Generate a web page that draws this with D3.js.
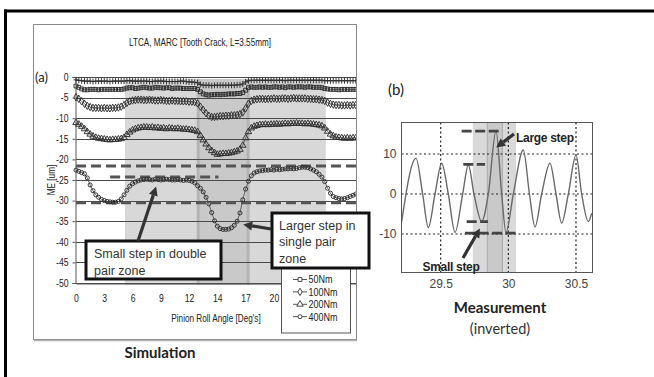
<!DOCTYPE html>
<html><head><meta charset="utf-8">
<script src="https://cdn.jsdelivr.net/npm/d3@7"></script>
<style>
html,body{margin:0;padding:0;background:#fff;}
svg{display:block;}
</style></head><body>
<svg id="fig" width="654" height="377"></svg>
<script>
// ---------- panel (a): simulated mesh error (LTCA, MARC) ----------
const angleStep = 2 / 7;          // roll-angle spacing of the samples [deg]
const xTickLabels = ["0","3","6","9","12","14","17","20"];
const xLabelEvery = 10;           // one category label every 10 samples
const yTicksA = [0,-5,-10,-15,-20,-25,-30,-35,-40,-45,-50];

const me25 = [-0.7,-0.8,-0.9,-1.0,-1.0,-1.0,-1.1,-1.0,-1.0,-1.0,
  -1.0,-1.0,-1.1,-1.0,-1.0,-1.0,-1.0,-1.0,-0.9,-0.9,
  -1.0,-1.0,-1.0,-1.0,-1.0,-1.0,-1.1,-1.1,-1.0,-1.0,
  -1.0,-1.0,-1.1,-1.1,-1.1,-1.1,-1.1,-1.0,-1.0,-1.1,
  -1.2,-1.2,-1.3,-1.4,-1.8,-2.0,-2.0,-2.0,-2.1,-2.0,
  -2.0,-2.0,-2.0,-2.0,-2.0,-2.0,-2.0,-1.9,-1.9,-1.7,
  -1.2,-0.9,-0.8,-0.8,-0.8,-0.8,-0.8,-0.8,-0.8,-0.8,
  -0.8,-0.8,-0.8,-0.8,-0.9,-0.8,-0.8,-0.8,-0.8,-0.8,
  -0.8,-0.8,-0.8,-0.8,-0.8,-0.8,-0.8,-0.8,-0.9,-0.9,
  -0.9,-0.9,-0.9,-0.9,-0.9,-0.9,-0.9,-0.9,-0.9,-0.9];
const me50 = [-2.2,-2.5,-2.9,-3.1,-3.1,-3.0,-3.0,-3.0,-3.1,-3.0,
  -3.0,-3.0,-3.0,-3.0,-3.0,-3.0,-3.0,-2.9,-2.7,-2.6,
  -2.6,-2.8,-2.7,-2.6,-2.5,-2.6,-2.7,-2.7,-2.5,-2.6,
  -2.6,-2.7,-2.6,-2.6,-2.8,-2.7,-2.7,-2.7,-2.8,-2.8,
  -2.8,-2.8,-2.8,-3.0,-3.6,-4.1,-4.3,-4.4,-4.3,-4.3,
  -4.2,-4.3,-4.2,-4.2,-4.1,-4.1,-4.1,-4.0,-4.0,-3.8,
  -3.2,-2.6,-2.4,-2.5,-2.5,-2.4,-2.5,-2.4,-2.5,-2.5,
  -2.4,-2.4,-2.5,-2.4,-2.6,-2.4,-2.4,-2.5,-2.4,-2.4,
  -2.4,-2.5,-2.4,-2.4,-2.5,-2.5,-2.5,-2.6,-2.8,-2.9,
  -3.0,-3.0,-3.0,-3.1,-3.0,-3.0,-3.0,-3.0,-3.0,-3.0];
const me100 = [-4.9,-5.3,-5.9,-6.5,-7.0,-7.3,-7.5,-7.5,-7.5,-7.6,
  -7.5,-7.6,-7.6,-7.5,-7.5,-7.4,-7.2,-6.8,-6.3,-5.9,
  -5.7,-5.6,-5.5,-5.5,-5.6,-5.6,-5.5,-5.6,-5.7,-5.7,
  -5.6,-5.7,-5.8,-5.8,-5.7,-5.8,-5.8,-5.9,-5.9,-5.9,
  -6.0,-6.0,-6.1,-6.4,-7.2,-8.0,-8.8,-9.4,-9.7,-9.7,
  -9.6,-9.5,-9.5,-9.4,-9.4,-9.3,-9.3,-9.2,-9.0,-8.6,
  -7.6,-6.5,-5.8,-5.5,-5.4,-5.3,-5.3,-5.4,-5.3,-5.3,
  -5.2,-5.3,-5.3,-5.2,-5.2,-5.3,-5.2,-5.1,-5.2,-5.2,
  -5.2,-5.2,-5.3,-5.3,-5.4,-5.4,-5.5,-5.6,-5.8,-6.2,
  -6.5,-6.7,-6.8,-6.8,-6.9,-6.9,-6.8,-6.9,-6.8,-6.8];
const me200 = [-11.1,-11.5,-12.0,-12.6,-13.3,-13.9,-14.4,-14.7,-14.9,-15.0,
  -15.1,-15.2,-15.3,-15.2,-15.2,-15.1,-15.0,-14.7,-14.0,-13.4,
  -12.9,-12.6,-12.4,-12.3,-12.2,-12.2,-12.3,-12.2,-12.4,-12.3,
  -12.5,-12.4,-12.6,-12.4,-12.5,-12.6,-12.5,-12.6,-12.7,-12.7,
  -12.8,-12.9,-13.0,-13.3,-14.2,-15.3,-16.3,-17.2,-17.9,-18.4,
  -18.8,-18.7,-18.6,-18.6,-18.5,-18.4,-18.2,-18.0,-17.6,-16.6,
  -14.8,-13.3,-12.4,-12.0,-11.8,-11.6,-11.6,-11.5,-11.6,-11.5,
  -11.5,-11.4,-11.5,-11.4,-11.3,-11.4,-11.3,-11.3,-11.2,-11.3,
  -11.3,-11.4,-11.3,-11.4,-11.5,-11.6,-11.7,-11.9,-12.4,-13.2,
  -13.9,-14.3,-14.6,-14.7,-14.8,-14.9,-14.8,-14.9,-14.8,-14.8];
const me400 = [-22.6,-22.9,-23.2,-23.5,-24.5,-26.2,-27.6,-28.6,-29.2,-29.7,
  -30.0,-30.2,-30.3,-30.4,-30.4,-30.2,-29.6,-28.6,-27.5,-26.5,
  -25.9,-25.5,-25.2,-25.0,-24.9,-24.8,-24.9,-25.0,-24.8,-24.9,
  -25.0,-24.9,-24.8,-24.9,-25.0,-25.0,-24.9,-25.0,-25.1,-25.0,
  -25.1,-25.3,-25.7,-26.4,-27.0,-27.9,-29.2,-30.8,-32.9,-34.9,
  -36.2,-36.8,-37.0,-37.0,-36.9,-36.6,-36.0,-35.0,-33.0,-29.8,
  -27.2,-25.3,-24.0,-23.3,-23.0,-22.8,-22.7,-22.6,-22.6,-22.5,
  -22.6,-22.4,-22.5,-22.4,-22.3,-22.3,-22.2,-22.3,-22.2,-22.0,
  -21.9,-21.9,-22.0,-22.3,-22.6,-23.0,-23.6,-24.3,-25.4,-27.0,
  -28.2,-29.0,-29.3,-29.5,-29.6,-29.5,-29.3,-29.0,-28.7,-28.4];

const loadSeries = [
  {name:"25Nm",  marker:"plus",     values:me25},
  {name:"50Nm",  marker:"square",   values:me50},
  {name:"100Nm", marker:"diamond",  values:me100},
  {name:"200Nm", marker:"triangle", values:me200},
  {name:"400Nm", marker:"circle",   values:me400}
];
const legendNames = ["50Nm","100Nm","200Nm","400Nm"];

// contact zones [deg] and step reference levels [um]
const doublePairZone = [4.95, 25.25];
const singlePairZone = [12.35, 17.4];
const stepLevelsA = [
  {value:-21.6, from:0,   to:28.3},
  {value:-24.3, from:3.45, to:14.4},
  {value:-30.55, from:0,  to:28.3}
];

// ---------- panel (b): measured transmission error ----------
const measTime = [29.2115,29.3175,29.3667,29.4086,29.4579,29.5072,29.5564,29.6057,
  29.6624,29.7042,29.7461,29.8028,29.8520,29.9087,29.9506,29.9826,30.0368,30.1107,
  30.1560,30.1970,30.2463,30.3078,30.3522,30.3941,30.4433,30.5000,30.5419,30.5911,30.6158];
const measSignal = [-6.9,8.9,0,-8.4,0,7.7,0,-9.6,
  0,7.25,0,-6.9,0,15.75,0,-9.6,0,11.0,
  0,-8.2,0,7.7,0,-7.3,0,9.75,0,-6.9,-4.8];
const xTicksB = [29.5, 30, 30.5];
const yTicksB = [-10, 0, 10];
const measWideZone = [29.737, 30.057];
const measNarrowZone = [29.845, 29.956];
const stepLevelsB = [
  {value:15.7, from:29.655, to:29.94},
  {value:7.4,  from:29.667, to:29.828},
  {value:-6.9, from:29.692, to:29.85},
  {value:-9.8, from:29.68,  to:30.06}
];

// ================= drawing =================
const svg = d3.select("#fig");
const sans = "'Liberation Sans',Arial,sans-serif";
const calib = "Lato,'Open Sans',sans-serif";
const NARROW = 0.82;   // horizontal squeeze giving a narrow face

// squeeze text horizontally about its own x anchor
function condense(sel, k = NARROW) {
  sel.each(function () {
    const t = d3.select(this);
    const x = +t.attr("x") || 0;
    t.attr("transform", `translate(${x * (1 - k)},0) scale(${k},1)`);
  });
}

function arrow(g, x1, y1, x2, y2) {
  const L = 9, W = 4.5;
  const dx = x2 - x1, dy = y2 - y1, len = Math.hypot(dx, dy);
  const ux = dx / len, uy = dy / len;
  const bx = x2 - ux * L, by = y2 - uy * L;
  g.append("line").attr("x1", x1).attr("y1", y1).attr("x2", bx).attr("y2", by)
    .attr("stroke", "#333").attr("stroke-width", 3.2);
  g.append("path")
    .attr("d", `M${x2},${y2}L${bx - uy * W},${by + ux * W}L${bx + uy * W},${by - ux * W}Z`)
    .attr("fill", "#333");
}

// outer figure frame
svg.append("line").attr("x1", 4).attr("x2", 654).attr("y1", 11).attr("y2", 11)
  .attr("stroke", "#000").attr("stroke-width", 3);
svg.append("line").attr("x1", 5.5).attr("x2", 5.5).attr("y1", 9.5).attr("y2", 377)
  .attr("stroke", "#000").attr("stroke-width", 3);

// ---- panel (a) ----
const gA = svg.append("g");
gA.append("rect").attr("x", 33.5).attr("y", 24.5).attr("width", 323).attr("height", 315)
  .attr("fill", "#fff").attr("stroke", "#8a8a8a").attr("stroke-width", 1);
gA.append("line").attr("x1", 34).attr("x2", 357).attr("y1", 340.5).attr("y2", 340.5)
  .attr("stroke", "#b0b0b0").attr("stroke-width", 1.5);

const xA = d3.scaleLinear().domain([0, 28.3]).range([76, 356]);
const yA = d3.scaleLinear().domain([0, -50]).range([77, 283]);

gA.append("text").attr("x", 200).attr("y", 46.5).attr("text-anchor", "middle")
  .attr("font-family", sans).attr("font-size", 10.7).attr("fill", "#222")
  .text("LTCA, MARC [Tooth Crack, L=3.55mm]").call(condense, 0.76);

// zones
gA.append("rect").attr("x", xA(doublePairZone[0])).attr("y", yA(-0.5))
  .attr("width", xA(doublePairZone[1]) - xA(doublePairZone[0]))
  .attr("height", yA(-50.5) - yA(-0.5)).attr("fill", "#d8d8d8");
gA.append("rect").attr("x", xA(singlePairZone[0])).attr("y", yA(-0.5))
  .attr("width", xA(singlePairZone[1]) - xA(singlePairZone[0]))
  .attr("height", yA(-50.5) - yA(-0.5)).attr("fill", "#c9c9c9");
singlePairZone.forEach(v => gA.append("line")
  .attr("x1", xA(v)).attr("x2", xA(v)).attr("y1", yA(-0.5)).attr("y2", yA(-50.5))
  .attr("stroke", "#b4b4b4").attr("stroke-width", 3));

// horizontal grid
gA.append("g").selectAll("line").data(yTicksA).join("line")
  .attr("x1", 76).attr("x2", 356).attr("y1", d => Math.round(yA(d)) + 0.5).attr("y2", d => Math.round(yA(d)) + 0.5)
  .attr("stroke", "#4a4a4a").attr("stroke-width", 1);

// axes
const axL = gA.append("g").attr("transform", "translate(75.5,0)")
  .call(d3.axisLeft(yA).tickValues(yTicksA).tickFormat(d => String(d)).tickSize(3).tickPadding(4));
axL.select(".domain").attr("stroke", "#555");
axL.selectAll(".tick line").attr("stroke", "#555");
axL.selectAll("text").attr("font-family", sans).attr("font-size", 10.5).attr("fill", "#222").call(condense);

const labelPos = xTickLabels.map((_, i) => i * xLabelEvery * angleStep);
const axB = gA.append("g").attr("transform", `translate(0,${Math.round(yA(-50)) + 0.5})`)
  .call(d3.axisBottom(xA).tickValues(labelPos).tickFormat((d, i) => xTickLabels[i]).tickSize(0).tickPadding(11));
axB.select(".domain").attr("stroke", "#555");
axB.selectAll("text").attr("font-family", sans).attr("font-size", 10.5).attr("fill", "#222").call(condense);

gA.append("text").attr("x", 216).attr("y", 322.5).attr("text-anchor", "middle")
  .attr("font-family", sans).attr("font-size", 10).attr("fill", "#222")
  .text("Pinion Roll Angle [Deg's]").call(condense);
gA.append("text").attr("transform", `translate(55,180) rotate(-90) scale(${NARROW},1)`).attr("text-anchor", "middle")
  .attr("font-family", sans).attr("font-size", 10).attr("fill", "#222")
  .text("ME [um]");
gA.append("text").attr("x", 35).attr("y", 81.5).attr("font-family", calib)
  .attr("font-size", 13).attr("fill", "#222").text("(a)");

// data curves
const clipA = svg.append("defs").append("clipPath").attr("id", "clipA");
clipA.append("rect").attr("x", 70).attr("y", 60).attr("width", 286).attr("height", 240);
const plotA = gA.append("g").attr("clip-path", "url(#clipA)");

const markerPath = {
  plus: "M-2.5,0H2.5M0,-3V3",
  square: d3.symbol(d3.symbolSquare, 15)(),
  diamond: d3.symbol(d3.symbolDiamond, 16)(),
  triangle: d3.symbol(d3.symbolTriangle, 18)(),
  circle: d3.symbol(d3.symbolCircle, 13)()
};
const lineA = d3.line().x((d, i) => xA(i * angleStep)).y(d => yA(d));

// reference step levels (under the markers)
stepLevelsA.forEach(s => plotA.append("line")
  .attr("x1", xA(s.from)).attr("x2", xA(s.to)).attr("y1", yA(s.value)).attr("y2", yA(s.value))
  .attr("stroke", "#555").attr("stroke-width", 3).attr("stroke-dasharray", "10,5"));

loadSeries.forEach(s => {
  plotA.append("path").attr("d", lineA(s.values)).attr("fill", "none")
    .attr("stroke", "#555").attr("stroke-width", 0.9);
  plotA.append("g").selectAll("path").data(s.values).join("path")
    .attr("transform", (d, i) => `translate(${xA(i * angleStep)},${yA(d)})`)
    .attr("d", markerPath[s.marker]).attr("fill", "none")
    .attr("stroke", "#2e2e2e").attr("stroke-width", 0.95);
});

// legend
const leg = gA.append("g");
leg.append("rect").attr("x", 281.5).attr("y", 258.5).attr("width", 69).attr("height", 74.5)
  .attr("fill", "#fff").attr("stroke", "#555").attr("stroke-width", 1);
legendNames.forEach((n, i) => {
  const s = loadSeries.find(t => t.name === n);
  const y = 279.5 + i * 12.4;
  leg.append("line").attr("x1", 293).attr("x2", 307).attr("y1", y).attr("y2", y)
    .attr("stroke", "#444").attr("stroke-width", 0.9);
  leg.append("path").attr("transform", `translate(300,${y})`).attr("d", markerPath[s.marker])
    .attr("fill", "#fff").attr("stroke", "#333").attr("stroke-width", 0.9);
  leg.append("text").attr("x", 308.5).attr("y", y + 4).attr("font-family", sans)
    .attr("font-size", 11).attr("fill", "#222").text(n).call(condense);
});

// annotations
function noteBox(g, x, y, w, h, lines, tx, ty0, dy) {
  g.append("rect").attr("x", x).attr("y", y).attr("width", w).attr("height", h)
    .attr("fill", "#fff").attr("stroke", "#111").attr("stroke-width", 3);
  lines.forEach((t, i) => g.append("text").attr("x", tx).attr("y", ty0 + i * dy)
    .attr("font-family", sans).attr("font-size", 12.5).attr("fill", "#333").text(t));
}
noteBox(svg, 86, 241, 135, 38, ["Small step in double", "pair zone"], 94, 258, 16.5);
noteBox(svg, 272, 213, 97, 55, ["Larger step in", "single pair", "zone"], 279, 229.5, 16.5);
arrow(svg, 138, 241, xA(8.1), yA(-26.6));
arrow(svg, 271, 229, xA(16.9), yA(-35.8));

svg.append("text").attr("x", 160).attr("y", 358).attr("text-anchor", "middle")
  .attr("font-family", calib).attr("font-weight", 700).attr("font-size", 15)
  .attr("fill", "#222").text("Simulation");

// ---- panel (b) ----
const gB = svg.append("g");
const xB = d3.scaleLinear().domain([29.2103, 30.622]).range([401.5, 592.5]);
const yB = d3.scaleLinear().domain([-19.625, 17.875]).range([272.5, 122.5]);

gB.append("text").attr("x", 388).attr("y", 95).attr("font-family", calib)
  .attr("font-size", 15).attr("fill", "#222").text("(b)");

gB.append("rect").attr("x", xB(measWideZone[0])).attr("y", 122.5)
  .attr("width", xB(measWideZone[1]) - xB(measWideZone[0])).attr("height", 150).attr("fill", "#d9d9d9");
gB.append("rect").attr("x", xB(measNarrowZone[0])).attr("y", 122.5)
  .attr("width", xB(measNarrowZone[1]) - xB(measNarrowZone[0])).attr("height", 150).attr("fill", "#c9c9c9");
measNarrowZone.forEach(v => gB.append("line").attr("x1", xB(v)).attr("x2", xB(v))
  .attr("y1", 122.5).attr("y2", 272.5).attr("stroke", "#b0b0b0").attr("stroke-width", 1.2));

// dotted grid
gB.append("g").selectAll("line").data(xTicksB).join("line")
  .attr("x1", d => xB(d)).attr("x2", d => xB(d)).attr("y1", 122.5).attr("y2", 272.5)
  .attr("stroke", "#222").attr("stroke-width", 1.2).attr("stroke-dasharray", "2,2.5");
gB.append("g").selectAll("line").data(yTicksB).join("line")
  .attr("x1", 401.5).attr("x2", 592.5).attr("y1", d => yB(d)).attr("y2", d => yB(d))
  .attr("stroke", "#222").attr("stroke-width", 1.2).attr("stroke-dasharray", "2,2.5");

const clipB = svg.select("defs").append("clipPath").attr("id", "clipB");
clipB.append("rect").attr("x", 401.5).attr("y", 122.5).attr("width", 191).attr("height", 150);
const lineB = d3.line().x(d => xB(d[0])).y(d => yB(d[1])).curve(d3.curveMonotoneX);
gB.append("path").attr("clip-path", "url(#clipB)")
  .attr("d", lineB(measTime.map((t, i) => [t, measSignal[i]])))
  .attr("fill", "none").attr("stroke", "#6a6a6a").attr("stroke-width", 1.4);

stepLevelsB.forEach(s => gB.append("line")
  .attr("x1", xB(s.from)).attr("x2", xB(s.to)).attr("y1", yB(s.value)).attr("y2", yB(s.value))
  .attr("stroke", "#444").attr("stroke-width", 2.8).attr("stroke-dasharray", "10,3.5"));

gB.append("rect").attr("x", 401.5).attr("y", 122.5).attr("width", 191).attr("height", 150)
  .attr("fill", "none").attr("stroke", "#555").attr("stroke-width", 1);

const axBx = gB.append("g").attr("transform", "translate(0,272.5)")
  .call(d3.axisBottom(xB).tickValues(xTicksB).tickFormat(d => String(d)).tickSize(0).tickPadding(7));
axBx.select(".domain").remove();
axBx.selectAll("text").attr("font-family", sans).attr("font-size", 12).attr("fill", "#444");
const axBy = gB.append("g").attr("transform", "translate(401.5,0)")
  .call(d3.axisLeft(yB).tickValues(yTicksB).tickFormat(d => String(d)).tickSize(0).tickPadding(5));
axBy.select(".domain").remove();
axBy.selectAll("text").attr("font-family", sans).attr("font-size", 12).attr("fill", "#444");

arrow(gB, 514, 134, xB(29.91), yB(11.6));
arrow(gB, 463, 258, xB(29.79), yB(-8.6));
gB.append("text").attr("x", 516).attr("y", 141.5).attr("font-family", sans).attr("font-weight", 700)
  .attr("font-size", 12).attr("letter-spacing", -0.3).attr("fill", "#222").text("Large step");
gB.append("text").attr("x", 422.5).attr("y", 271).attr("font-family", sans).attr("font-weight", 700)
  .attr("font-size", 12).attr("letter-spacing", -0.3).attr("fill", "#222").text("Small step");

gB.append("text").attr("x", 500).attr("y", 312.5).attr("text-anchor", "middle").attr("font-family", calib)
  .attr("font-weight", 700).attr("font-size", 15).attr("fill", "#222").text("Measurement");
gB.append("text").attr("x", 500).attr("y", 334).attr("text-anchor", "middle").attr("font-family", calib)
  .attr("font-size", 14.5).attr("fill", "#333").text("(inverted)");
</script></body></html>
